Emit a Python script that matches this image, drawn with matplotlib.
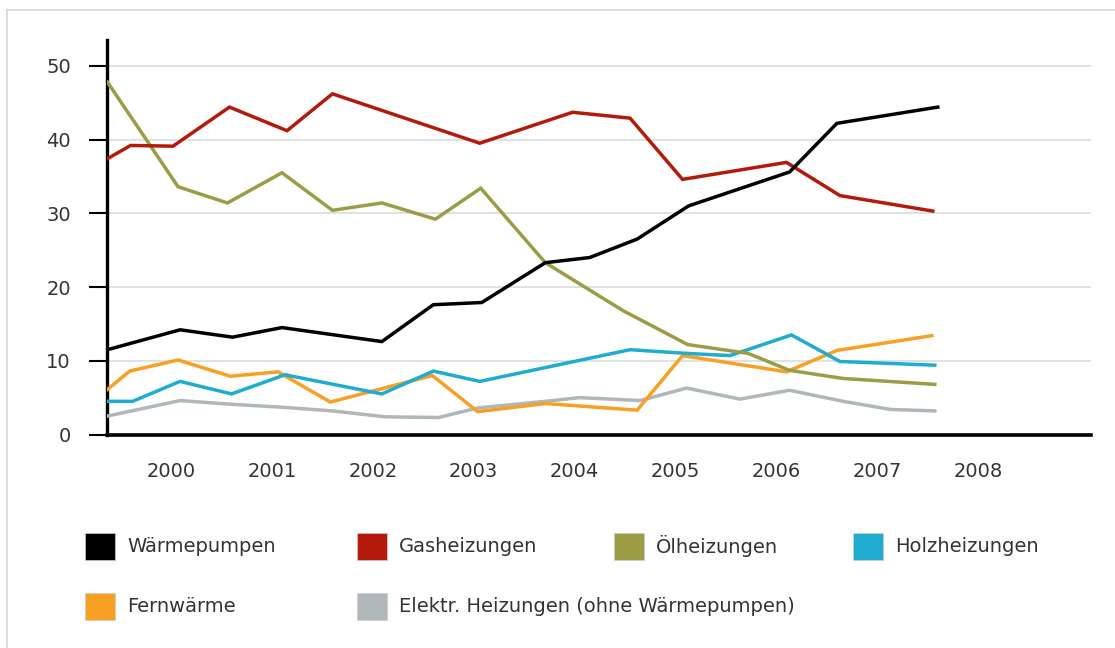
import matplotlib
matplotlib.use("Agg")
import matplotlib.pyplot as plt
from matplotlib.patches import Rectangle

W, H = 1115, 648

# Marktanteile in Prozent, Stützstellen als Dezimaljahr
waerme_x = [1999.37, 2000.09, 2000.61, 2001.10, 2002.09, 2002.60, 2003.08, 2003.71,
            2004.15, 2004.62, 2005.13, 2006.13, 2006.60, 2007.60]
waerme_y = [11.5, 14.2, 13.2, 14.5, 12.6, 17.6, 17.9, 23.3, 24.0, 26.5, 31.0, 35.6, 42.2, 44.4]

gas_x = [1999.37, 1999.60, 2000.02, 2000.58, 2001.15, 2001.60, 2003.06, 2003.98,
         2004.55, 2005.07, 2006.10, 2006.63, 2007.55]
gas_y = [37.4, 39.2, 39.1, 44.4, 41.2, 46.2, 39.5, 43.7, 42.9, 34.6, 36.9, 32.4, 30.3]

oel_x = [1999.37, 2000.07, 2000.56, 2001.10, 2001.60, 2002.09, 2002.62, 2003.07,
         2003.71, 2004.48, 2005.12, 2005.72, 2006.13, 2006.66, 2007.57]
oel_y = [47.8, 33.6, 31.4, 35.5, 30.4, 31.4, 29.2, 33.4, 23.3, 16.8, 12.2, 11.0, 8.7, 7.6, 6.8]

holz_x = [1999.37, 1999.62, 2000.09, 2000.60, 2001.13, 2002.09, 2002.60, 2003.06,
          2004.55, 2005.11, 2005.54, 2006.15, 2006.63, 2007.57]
holz_y = [4.5, 4.5, 7.2, 5.5, 8.1, 5.5, 8.6, 7.2, 11.5, 11.0, 10.7, 13.5, 9.9, 9.4]

fern_x = [1999.37, 1999.59, 2000.07, 2000.59, 2001.06, 2001.58, 2002.59, 2003.04,
          2003.71, 2004.62, 2005.07, 2006.10, 2006.60, 2007.54]
fern_y = [6.1, 8.6, 10.1, 7.9, 8.5, 4.4, 8.0, 3.1, 4.2, 3.3, 10.7, 8.5, 11.4, 13.4]

elektr_x = [1999.37, 2000.09, 2000.60, 2001.10, 2001.60, 2002.12, 2002.65, 2003.04,
            2003.71, 2004.05, 2004.65, 2005.11, 2005.64, 2006.13, 2006.66, 2007.13, 2007.57]
elektr_y = [2.5, 4.6, 4.1, 3.7, 3.2, 2.4, 2.3, 3.6, 4.5, 5.0, 4.6, 6.3, 4.8, 6.0, 4.5, 3.4, 3.2]

years = [2000, 2001, 2002, 2003, 2004, 2005, 2006, 2007, 2008]
y_ticks = [0, 10, 20, 30, 40, 50]

labels = ["Wärmepumpen", "Gasheizungen", "Ölheizungen", "Holzheizungen",
          "Fernwärme", "Elektr. Heizungen (ohne Wärmepumpen)"]
colors = ["#000000", "#b41a0c", "#9c9c46", "#1eacd0", "#f8a023", "#b0b7b9"]

series = [(waerme_x, waerme_y), (gas_x, gas_y), (oel_x, oel_y),
          (holz_x, holz_y), (fern_x, fern_y), (elektr_x, elektr_y)]

text_col = "#333333"
plt.rcParams["font.family"] = ["DejaVu Sans"]


def px(x, y):
    """Pixel (von oben links) -> Figure-Koordinaten"""
    return x / W, 1 - y / H


fig = plt.figure(figsize=(W / 100, H / 100), dpi=100)

# heller Rahmen um das ganze Diagramm
fig.add_artist(Rectangle(px(7, 700), (W + 20) / W, 690 / H, transform=fig.transFigure,
                         fill=False, edgecolor="#d9dede", linewidth=1.5))

ax = fig.add_axes([107 / W, 1 - 434.5 / H, (1091 - 107) / W, (434.5 - 40) / H])

# zuerst die hinteren Linien zeichnen, Wärmepumpen obenauf
for i in [5, 4, 3, 2, 1, 0]:
    xs, ys = series[i]
    ax.plot(xs, ys, color=colors[i], linewidth=2.5, solid_joinstyle="miter", zorder=3 + (5 - i) * 0.1)

ax.set_xlim(1999.366, 2009.118)
ax.set_ylim(0, 53.5)

ax.set_yticks(y_ticks)
ax.set_xticks(years)
ax.set_xticklabels([str(y) for y in years])

ax.grid(axis="y", color="#dde3e3", linewidth=1.4, zorder=0)
ax.set_axisbelow(True)

for side in ["top", "right"]:
    ax.spines[side].set_visible(False)
ax.spines["left"].set_linewidth(2.4)
ax.spines["bottom"].set_linewidth(2.6)
ax.spines["bottom"].set_zorder(5)

ax.tick_params(axis="y", length=13, width=1.5, pad=13, labelsize=14, labelcolor=text_col)
ax.tick_params(axis="x", length=0, pad=20, labelsize=14, labelcolor=text_col)

# Legende frei gesetzt wie im Original (Fließlayout)
legend_pos = [(85, 546), (357, 546), (614, 546), (853, 546), (85, 606), (357, 606)]
for (lx, ly), lab, col in zip(legend_pos, labels, colors):
    fig.add_artist(Rectangle(px(lx, ly + 13.5), 30 / W, 27 / H, transform=fig.transFigure,
                             facecolor=col, edgecolor="#cccccc", linewidth=0.5))
    tx, ty = px(lx + 42, ly)
    fig.text(tx, ty, lab, fontsize=14, color=text_col, va="center", ha="left")

fig.savefig("out.png", dpi=100)
